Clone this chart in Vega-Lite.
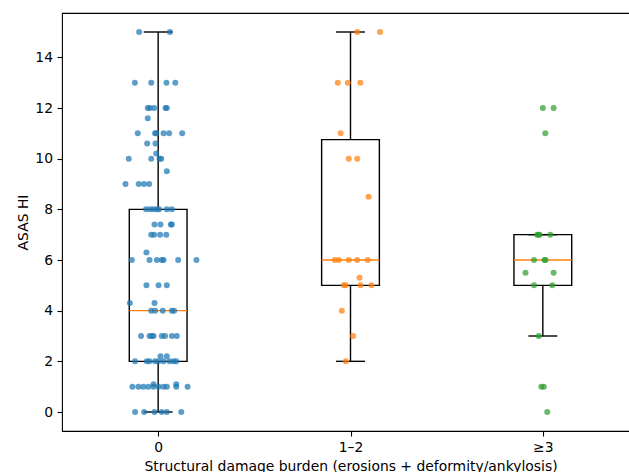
{
  "$schema": "https://vega.github.io/schema/vega-lite/v6.json",
  "width": 577,
  "height": 418,
  "autosize": {"type": "none"},
  "padding": {"left": 62, "top": 13, "right": 0, "bottom": 41},
  "background": "white",
  "config": {
    "view": {"stroke": "#000000", "strokeWidth": 1.1},
    "font": "DejaVu Sans",
    "axis": {
      "grid": false,
      "domain": false,
      "tickColor": "#000000",
      "tickSize": 5,
      "tickWidth": 1.1,
      "labelColor": "#000000",
      "labelFont": "DejaVu Sans",
      "labelFontSize": 13.9,
      "labelPadding": 4.5,
      "titleColor": "#000000",
      "titleFont": "DejaVu Sans",
      "titleFontSize": 13.9,
      "titleFontWeight": "normal"
    }
  },
  "datasets": {
    "points": [
      {"g": "0", "x": 0.901, "y": 15}, {"g": "0", "x": 1.061, "y": 15},
      {"g": "0", "x": 0.879, "y": 13}, {"g": "0", "x": 0.964, "y": 13}, {"g": "0", "x": 1.043, "y": 13}, {"g": "0", "x": 1.089, "y": 13},
      {"g": "0", "x": 0.946, "y": 12}, {"g": "0", "x": 0.957, "y": 12}, {"g": "0", "x": 0.979, "y": 12}, {"g": "0", "x": 1.038, "y": 12}, {"g": "0", "x": 1.045, "y": 12},
      {"g": "0", "x": 0.946, "y": 11.6},
      {"g": "0", "x": 0.894, "y": 11}, {"g": "0", "x": 0.984, "y": 11}, {"g": "0", "x": 0.990, "y": 11}, {"g": "0", "x": 1.028, "y": 11}, {"g": "0", "x": 1.057, "y": 11}, {"g": "0", "x": 1.125, "y": 11},
      {"g": "0", "x": 0.943, "y": 10.6}, {"g": "0", "x": 0.986, "y": 10.6},
      {"g": "0", "x": 0.990, "y": 10.2},
      {"g": "0", "x": 0.847, "y": 10}, {"g": "0", "x": 0.964, "y": 10}, {"g": "0", "x": 1.007, "y": 10}, {"g": "0", "x": 1.016, "y": 10},
      {"g": "0", "x": 1.045, "y": 9.5},
      {"g": "0", "x": 0.830, "y": 9}, {"g": "0", "x": 0.899, "y": 9}, {"g": "0", "x": 0.926, "y": 9}, {"g": "0", "x": 0.953, "y": 9},
      {"g": "0", "x": 0.937, "y": 8}, {"g": "0", "x": 0.958, "y": 8}, {"g": "0", "x": 0.976, "y": 8}, {"g": "0", "x": 0.993, "y": 8}, {"g": "0", "x": 1.005, "y": 8}, {"g": "0", "x": 1.045, "y": 8}, {"g": "0", "x": 1.071, "y": 8},
      {"g": "0", "x": 0.981, "y": 7.4}, {"g": "0", "x": 1.012, "y": 7.4}, {"g": "0", "x": 1.066, "y": 7.4}, {"g": "0", "x": 1.071, "y": 7.4},
      {"g": "0", "x": 0.964, "y": 7}, {"g": "0", "x": 0.979, "y": 7}, {"g": "0", "x": 1.010, "y": 7}, {"g": "0", "x": 1.042, "y": 7},
      {"g": "0", "x": 0.939, "y": 6.3},
      {"g": "0", "x": 0.863, "y": 6}, {"g": "0", "x": 0.955, "y": 6}, {"g": "0", "x": 0.993, "y": 6}, {"g": "0", "x": 1.019, "y": 6}, {"g": "0", "x": 1.028, "y": 6}, {"g": "0", "x": 1.104, "y": 6}, {"g": "0", "x": 1.199, "y": 6},
      {"g": "0", "x": 0.939, "y": 5}, {"g": "0", "x": 1.002, "y": 5}, {"g": "0", "x": 1.045, "y": 5},
      {"g": "0", "x": 0.853, "y": 4.3}, {"g": "0", "x": 0.981, "y": 4.3},
      {"g": "0", "x": 0.964, "y": 4}, {"g": "0", "x": 0.984, "y": 4}, {"g": "0", "x": 1.024, "y": 4}, {"g": "0", "x": 1.071, "y": 4}, {"g": "0", "x": 1.083, "y": 4},
      {"g": "0", "x": 0.911, "y": 3}, {"g": "0", "x": 0.955, "y": 3}, {"g": "0", "x": 0.967, "y": 3}, {"g": "0", "x": 0.976, "y": 3}, {"g": "0", "x": 1.019, "y": 3}, {"g": "0", "x": 1.036, "y": 3}, {"g": "0", "x": 1.071, "y": 3}, {"g": "0", "x": 1.097, "y": 3},
      {"g": "0", "x": 1.012, "y": 2.2}, {"g": "0", "x": 1.045, "y": 2.2},
      {"g": "0", "x": 0.880, "y": 2}, {"g": "0", "x": 0.941, "y": 2}, {"g": "0", "x": 0.955, "y": 2}, {"g": "0", "x": 0.984, "y": 2}, {"g": "0", "x": 1.002, "y": 2}, {"g": "0", "x": 1.028, "y": 2}, {"g": "0", "x": 1.059, "y": 2}, {"g": "0", "x": 1.080, "y": 2}, {"g": "0", "x": 1.094, "y": 2},
      {"g": "0", "x": 0.976, "y": 1.1}, {"g": "0", "x": 1.094, "y": 1.1},
      {"g": "0", "x": 0.866, "y": 1}, {"g": "0", "x": 0.897, "y": 1}, {"g": "0", "x": 0.923, "y": 1}, {"g": "0", "x": 0.949, "y": 1}, {"g": "0", "x": 0.976, "y": 1}, {"g": "0", "x": 1.002, "y": 1}, {"g": "0", "x": 1.028, "y": 1}, {"g": "0", "x": 1.045, "y": 1}, {"g": "0", "x": 1.094, "y": 1}, {"g": "0", "x": 1.153, "y": 1},
      {"g": "0", "x": 0.880, "y": 0}, {"g": "0", "x": 0.927, "y": 0}, {"g": "0", "x": 0.981, "y": 0}, {"g": "0", "x": 1.019, "y": 0}, {"g": "0", "x": 1.045, "y": 0}, {"g": "0", "x": 1.120, "y": 0},
      {"g": "1–2", "x": 2.035, "y": 15}, {"g": "1–2", "x": 2.153, "y": 15},
      {"g": "1–2", "x": 1.934, "y": 13}, {"g": "1–2", "x": 1.986, "y": 13}, {"g": "1–2", "x": 2.051, "y": 13},
      {"g": "1–2", "x": 1.949, "y": 11},
      {"g": "1–2", "x": 1.991, "y": 10}, {"g": "1–2", "x": 2.035, "y": 10},
      {"g": "1–2", "x": 2.094, "y": 8.5},
      {"g": "1–2", "x": 1.918, "y": 6}, {"g": "1–2", "x": 1.939, "y": 6}, {"g": "1–2", "x": 1.991, "y": 6}, {"g": "1–2", "x": 2.035, "y": 6}, {"g": "1–2", "x": 2.089, "y": 6},
      {"g": "1–2", "x": 2.047, "y": 5.3},
      {"g": "1–2", "x": 1.965, "y": 5}, {"g": "1–2", "x": 1.974, "y": 5}, {"g": "1–2", "x": 2.052, "y": 5}, {"g": "1–2", "x": 2.109, "y": 5},
      {"g": "1–2", "x": 1.955, "y": 4},
      {"g": "1–2", "x": 2.014, "y": 3},
      {"g": "1–2", "x": 1.976, "y": 2},
      {"g": "≥3", "x": 3.000, "y": 12}, {"g": "≥3", "x": 3.056, "y": 12},
      {"g": "≥3", "x": 3.013, "y": 11},
      {"g": "≥3", "x": 2.971, "y": 7}, {"g": "≥3", "x": 2.978, "y": 7}, {"g": "≥3", "x": 2.983, "y": 7}, {"g": "≥3", "x": 3.039, "y": 7},
      {"g": "≥3", "x": 2.954, "y": 6}, {"g": "≥3", "x": 3.009, "y": 6}, {"g": "≥3", "x": 3.014, "y": 6},
      {"g": "≥3", "x": 2.910, "y": 5.5}, {"g": "≥3", "x": 3.056, "y": 5.5},
      {"g": "≥3", "x": 2.954, "y": 5}, {"g": "≥3", "x": 3.049, "y": 5},
      {"g": "≥3", "x": 2.979, "y": 3},
      {"g": "≥3", "x": 2.992, "y": 1}, {"g": "≥3", "x": 3.005, "y": 1},
      {"g": "≥3", "x": 3.023, "y": 0}
    ],
    "boxes": [
      {"g": "0", "x": 1, "lo": 0, "q1": 2, "med": 4, "q3": 8, "hi": 15},
      {"g": "1–2", "x": 2, "lo": 2, "q1": 5, "med": 6, "q3": 10.75, "hi": 15},
      {"g": "≥3", "x": 3, "lo": 3, "q1": 5, "med": 6, "q3": 7, "hi": 7}
    ]
  },
  "layer": [
    {
      "data": {"name": "boxes"},
      "mark": {"type": "rule", "color": "#000000", "strokeWidth": 1.4},
      "encoding": {
        "x": {"field": "x", "type": "quantitative", "scale": {"domain": [0.5, 3.5], "nice": false, "zero": false, "padding": 0},
          "axis": {"values": [1, 2, 3], "labelExpr": "datum.value == 1 ? '0' : datum.value == 2 ? '1–2' : '≥3'", "title": "Structural damage burden (erosions + deformity/ankylosis)", "titlePadding": 5}},
        "y": {"field": "lo", "type": "quantitative", "scale": {"domain": [-0.75, 15.75], "nice": false, "zero": false, "padding": 0},
          "axis": {"values": [0, 2, 4, 6, 8, 10, 12, 14], "title": "ASAS HI", "titlePadding": 4}},
        "y2": {"field": "q1"}
      }
    },
    {
      "data": {"name": "boxes"},
      "mark": {"type": "rule", "color": "#000000", "strokeWidth": 1.4},
      "encoding": {
        "x": {"field": "x", "type": "quantitative"},
        "y": {"field": "q3", "type": "quantitative"},
        "y2": {"field": "hi"}
      }
    },
    {
      "data": {"name": "boxes"},
      "mark": {"type": "tick", "orient": "horizontal", "color": "#000000", "size": 28.9, "thickness": 1.4, "opacity": 1},
      "encoding": {
        "x": {"field": "x", "type": "quantitative"},
        "y": {"field": "lo", "type": "quantitative"}
      }
    },
    {
      "data": {"name": "boxes"},
      "mark": {"type": "tick", "orient": "horizontal", "color": "#000000", "size": 28.9, "thickness": 1.4, "opacity": 1},
      "encoding": {
        "x": {"field": "x", "type": "quantitative"},
        "y": {"field": "hi", "type": "quantitative"}
      }
    },
    {
      "data": {"name": "boxes"},
      "mark": {"type": "bar", "size": 57.75, "fill": "#ffffff", "fillOpacity": 0, "stroke": "#000000", "strokeWidth": 1.4},
      "encoding": {
        "x": {"field": "x", "type": "quantitative"},
        "y": {"field": "q1", "type": "quantitative"},
        "y2": {"field": "q3"}
      }
    },
    {
      "data": {"name": "boxes"},
      "mark": {"type": "tick", "orient": "horizontal", "color": "#ff7f0e", "size": 57.75, "thickness": 1.4, "opacity": 1},
      "encoding": {
        "x": {"field": "x", "type": "quantitative"},
        "y": {"field": "med", "type": "quantitative"}
      }
    },
    {
      "data": {"name": "points"},
      "mark": {"type": "circle", "size": 36, "opacity": 0.72, "strokeWidth": 0},
      "encoding": {
        "x": {"field": "x", "type": "quantitative"},
        "y": {"field": "y", "type": "quantitative"},
        "color": {"field": "g", "type": "nominal", "scale": {"domain": ["0", "1–2", "≥3"], "range": ["#1f77b4", "#ff7f0e", "#2ca02c"]}, "legend": null}
      }
    }
  ]
}
